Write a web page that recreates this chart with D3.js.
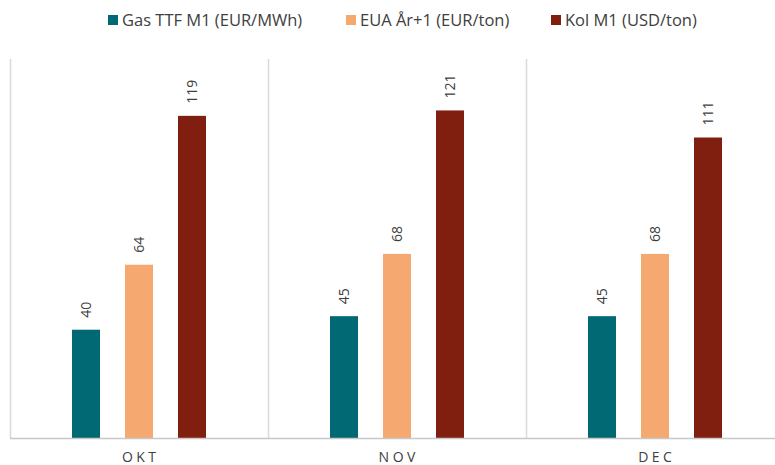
<!DOCTYPE html>
<html><head><meta charset="utf-8">
<script src="https://cdn.jsdelivr.net/npm/d3@7"></script>
<style>body{margin:0;background:#fff}svg{display:block}</style>
</head><body>
<svg id="c" width="775" height="465"></svg>
<script>
const categories = ["OKT", "NOV", "DEC"];
const seriesNames = ["Gas TTF M1 (EUR/MWh)", "EUA År+1 (EUR/ton)", "Kol M1 (USD/ton)"];
const gasValues = [40, 45, 45];
const euaValues = [64, 68, 68];
const kolValues = [119, 121, 111];
const colors = ["#006974", "#F5A970", "#801F10"];

const series = [gasValues, euaValues, kolValues];
const svg = d3.select("#c");
const font = "'Open Sans', 'Noto Sans', sans-serif";
const x0 = 10, x1 = 784, yBase = 438, yTop = 59;

const x = d3.scaleBand().domain(categories).range([x0, x1]).paddingInner(0).paddingOuter(0);
const y = d3.scaleLinear().domain([0, 140]).range([yBase, yTop]);
const xs = d3.scaleBand().domain(d3.range(series.length)).range([0, x.bandwidth()]).paddingInner(0.472).paddingOuter(1.17);

// separators
svg.append("g").selectAll("line").data(categories).join("line")
  .attr("x1", d => x(d)+0.5).attr("x2", d => x(d)+0.5)
  .attr("y1", yTop).attr("y2", yBase)
  .attr("stroke", "#d9d9d9").attr("stroke-width", 1.5);

// bars
categories.forEach((c, ci) => {
  const g = svg.append("g").attr("transform", `translate(${x(c)},0)`);
  series.forEach((vals, si) => {
    const v = vals[ci];
    const bx = xs(si), bw = xs.bandwidth();
    g.append("rect").attr("x", bx).attr("width", bw)
      .attr("y", y(v)).attr("height", y(0) - y(v))
      .attr("fill", colors[si]);
    g.append("text")
      .attr("transform", `translate(${bx + bw/2 + 5},${y(v) - 12}) rotate(-90)`)
      .attr("text-anchor", "start")
      .attr("font-family", font).attr("font-size", 14)
      .attr("fill", "#404040").text(v);
  });
});

// baseline
svg.append("line").attr("x1", x0).attr("x2", 775).attr("y1", yBase+0.5).attr("y2", yBase+0.5)
  .attr("stroke", "#c8c8c8").attr("stroke-width", 1.5);

// category axis
const ax = svg.append("g").attr("transform", `translate(0,${yBase})`)
  .call(d3.axisBottom(x).tickSize(0).tickPadding(14));
ax.select(".domain").remove();
ax.selectAll("text").attr("font-family", font).attr("font-size", 14)
  .attr("fill", "#404040").attr("letter-spacing", "3.5px").attr("dx", "1.75px");

// legend
const legX = [108, 346, 551];
const leg = svg.append("g");
seriesNames.forEach((n, i) => {
  leg.append("rect").attr("x", legX[i]).attr("y", 15).attr("width", 10).attr("height", 10).attr("fill", colors[i]);
  leg.append("text").attr("x", legX[i] + 14).attr("y", 26)
    .attr("font-family", font).attr("font-size", 16.5).attr("fill", "#404040").text(n);
});
</script>
</body></html>
